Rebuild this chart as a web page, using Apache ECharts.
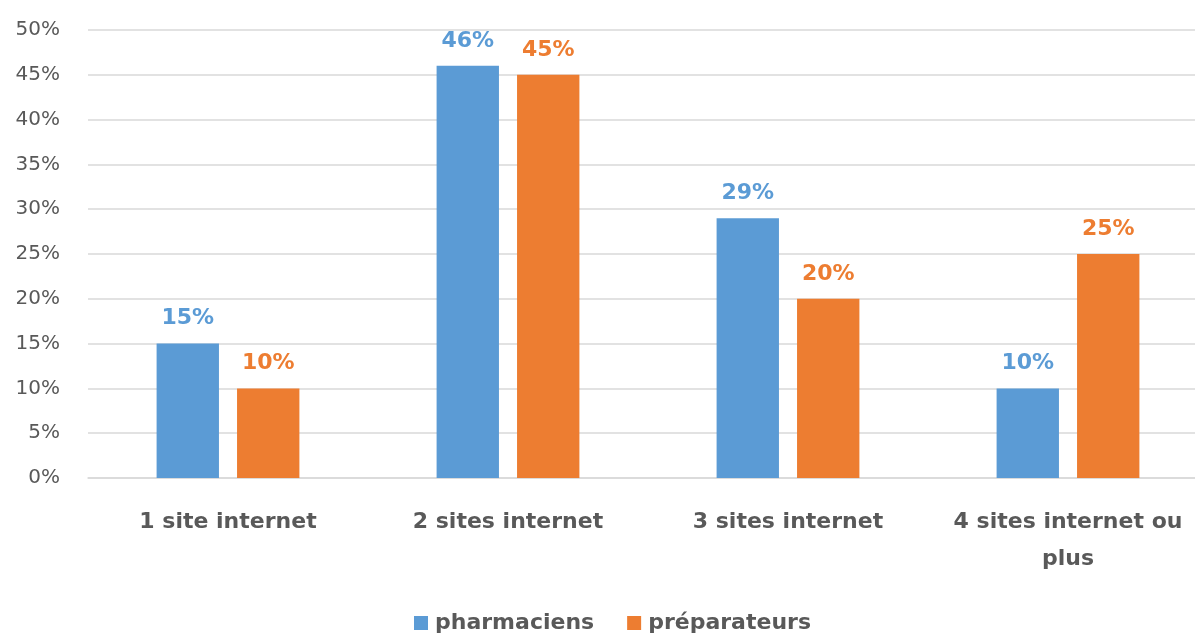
<!DOCTYPE html>
<html>
<head>
<meta charset="utf-8">
<script src="https://cdn.jsdelivr.net/npm/echarts@6/dist/echarts.min.js"></script>
<style>
  html, body { margin: 0; padding: 0; background: #fff; }
  #main { width: 1195px; height: 635px; }
</style>
</head>
<body>
<div id="main"></div>
<script>
var categories = ['1 site internet', '2 sites internet', '3 sites internet', '4 sites internet ou\nplus'];
var pharmaciens = [15, 46, 29, 10];
var preparateurs = [10, 45, 20, 25];
var seriesNames = ['pharmaciens', 'préparateurs'];

var chart = echarts.init(document.getElementById('main'));
var font = '"DejaVu Sans", sans-serif';

function labelFor(color) {
  return {
    show: true,
    position: 'top',
    distance: 14,
    formatter: '{c}%',
    color: color,
    fontFamily: font,
    fontWeight: 'bold',
    fontSize: 22
  };
}

chart.setOption({
  animation: false,
  color: ['#5b9bd5', '#ed7d31'],
  textStyle: { fontFamily: font },
  grid: { left: 88, width: 1120, top: 30, bottom: 157, outerBoundsMode: 'none' },
  legend: {
    top: 612,
    left: 414,
    padding: 0,
    itemWidth: 14,
    itemHeight: 14,
    itemGap: 33,
    icon: 'rect',
    textStyle: { color: '#595959', fontSize: 22, fontWeight: 'bold', fontFamily: font, padding: [0, 0, 0, 2] },
    data: seriesNames
  },
  xAxis: {
    type: 'category',
    data: categories,
    axisLine: { lineStyle: { color: '#d9d9d9', width: 1.5 } },
    axisTick: { show: false },
    axisLabel: {
      color: '#595959',
      fontSize: 22,
      fontWeight: 'bold',
      fontFamily: font,
      margin: 26,
      lineHeight: 37,
      interval: 0
    }
  },
  yAxis: {
    type: 'value',
    min: 0,
    max: 50,
    interval: 5,
    axisLine: { show: false },
    axisTick: { show: false },
    splitLine: { lineStyle: { color: '#d9d9d9', width: 1.5 } },
    axisLabel: {
      formatter: '{value}%',
      color: '#595959',
      fontSize: 20,
      fontFamily: font,
      margin: 28
    }
  },
  series: [
    {
      name: seriesNames[0],
      type: 'bar',
      data: pharmaciens,
      barGap: '29%',
      barCategoryGap: '49%',
      label: labelFor('#5b9bd5')
    },
    {
      name: seriesNames[1],
      type: 'bar',
      data: preparateurs,
      label: labelFor('#ed7d31')
    }
  ]
});
</script>
</body>
</html>
